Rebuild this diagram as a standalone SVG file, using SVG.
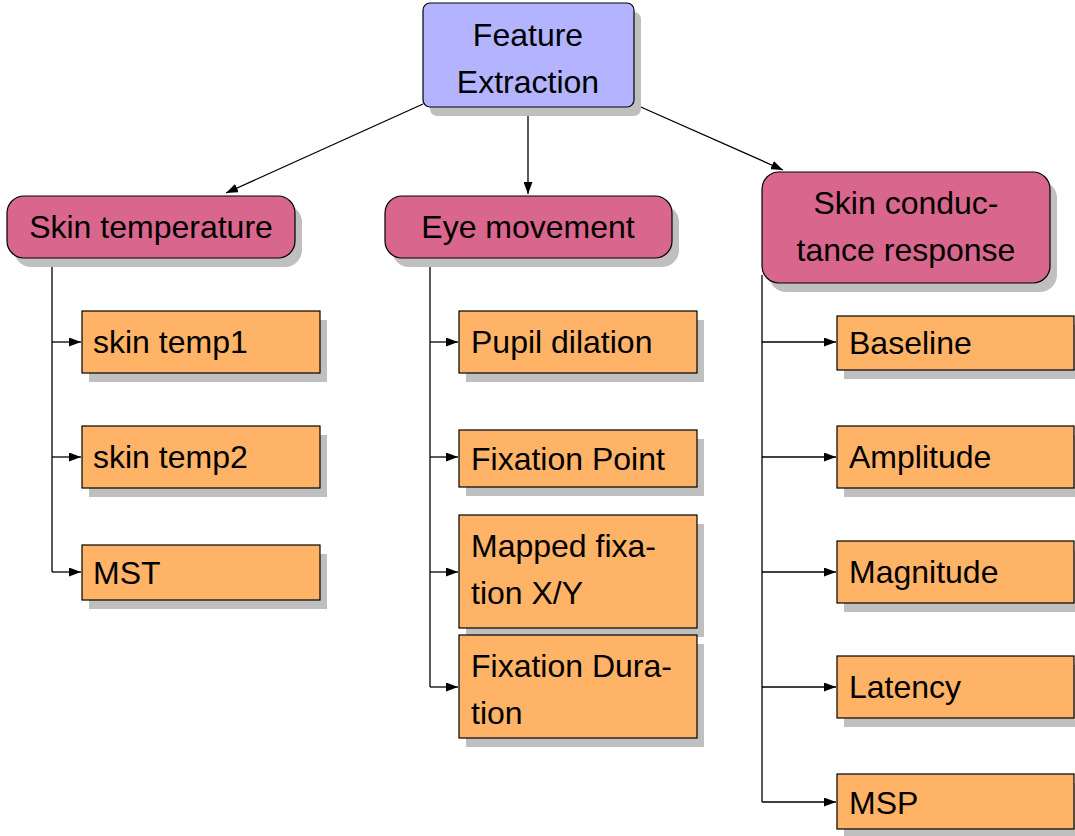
<svg xmlns="http://www.w3.org/2000/svg" width="1075" height="836" viewBox="0 0 1075 836">
<style>
text{font-family:"Liberation Sans",Arial,sans-serif;font-size:32px;fill:#000}
.c{text-anchor:middle}
.sh{fill:#bfbfbf}
.top{fill:#b3b3ff;stroke:#000;stroke-width:1.2}
.cat{fill:#d9668c;stroke:#000;stroke-width:1.2}
.leaf{fill:#ffb366;stroke:#000;stroke-width:1.2}
.ln{fill:none;stroke:#000;stroke-width:1.3}
</style>
<defs>
<marker id="ah" markerWidth="12" markerHeight="9" refX="12" refY="4.5" orient="auto" markerUnits="userSpaceOnUse">
<path d="M0,0 L12,4.5 L0,9 Z" fill="#000"/>
</marker>
</defs>
<g id="connectors" class="ln">
<line x1="423" y1="104" x2="226" y2="193" marker-end="url(#ah)"/>
<line x1="528" y1="107" x2="528" y2="194" marker-end="url(#ah)"/>
<line x1="634" y1="104" x2="783" y2="170" marker-end="url(#ah)"/>
<path d="M52,258 V572"/>
<line x1="52" y1="342" x2="81" y2="342" marker-end="url(#ah)"/>
<line x1="52" y1="457" x2="81" y2="457" marker-end="url(#ah)"/>
<line x1="52" y1="572" x2="81" y2="572" marker-end="url(#ah)"/>
<path d="M430,258 V687"/>
<line x1="430" y1="342" x2="458" y2="342" marker-end="url(#ah)"/>
<line x1="430" y1="457" x2="458" y2="457" marker-end="url(#ah)"/>
<line x1="430" y1="572" x2="458" y2="572" marker-end="url(#ah)"/>
<line x1="430" y1="687" x2="458" y2="687" marker-end="url(#ah)"/>
<path d="M762,275 V802"/>
<line x1="762" y1="342" x2="836" y2="342" marker-end="url(#ah)"/>
<line x1="762" y1="457" x2="836" y2="457" marker-end="url(#ah)"/>
<line x1="762" y1="572" x2="836" y2="572" marker-end="url(#ah)"/>
<line x1="762" y1="687" x2="836" y2="687" marker-end="url(#ah)"/>
<line x1="762" y1="802" x2="836" y2="802" marker-end="url(#ah)"/>
</g>
<g id="feature-extraction">
<rect class="sh" x="430" y="12" width="211" height="104" rx="7"/>
<rect class="top" x="423" y="3" width="211" height="104" rx="7"/>
<text class="c" x="528" y="46">Feature</text>
<text class="c" x="528" y="93">Extraction</text>
</g>
<g id="skin-temperature">
<rect class="sh" x="14" y="205" width="288" height="62" rx="17"/>
<rect class="cat" x="7" y="196" width="288" height="62" rx="17"/>
<text class="c" x="151" y="238">Skin temperature</text>
</g>
<g id="eye-movement">
<rect class="sh" x="392" y="205" width="287" height="62" rx="17"/>
<rect class="cat" x="385" y="196" width="287" height="62" rx="17"/>
<text class="c" x="528" y="238">Eye movement</text>
</g>
<g id="skin-conductance">
<rect class="sh" x="769" y="181" width="288" height="111" rx="17"/>
<rect class="cat" x="762" y="172" width="288" height="111" rx="17"/>
<text class="c" x="906" y="214">Skin conduc-</text>
<text class="c" x="906" y="261">tance response</text>
</g>
<g id="skin-temp1">
<rect class="sh" x="89" y="320" width="238" height="62"/>
<rect class="leaf" x="82" y="311" width="238" height="62"/>
<text x="93" y="353">skin temp1</text>
</g>
<g id="skin-temp2">
<rect class="sh" x="89" y="435" width="238" height="62"/>
<rect class="leaf" x="82" y="426" width="238" height="62"/>
<text x="93" y="468">skin temp2</text>
</g>
<g id="mst">
<rect class="sh" x="89" y="554" width="238" height="55"/>
<rect class="leaf" x="82" y="545" width="238" height="55"/>
<text x="93" y="584">MST</text>
</g>
<g id="pupil-dilation">
<rect class="sh" x="466" y="320" width="238" height="62"/>
<rect class="leaf" x="459" y="311" width="238" height="62"/>
<text x="471" y="353">Pupil dilation</text>
</g>
<g id="fixation-point">
<rect class="sh" x="466" y="439" width="238" height="57"/>
<rect class="leaf" x="459" y="430" width="238" height="57"/>
<text x="471" y="470">Fixation Point</text>
</g>
<g id="mapped-fixation">
<rect class="sh" x="466" y="524" width="238" height="113"/>
<rect class="leaf" x="459" y="515" width="238" height="113"/>
<text x="471" y="557">Mapped fixa-</text>
<text x="471" y="604">tion X/Y</text>
</g>
<g id="fixation-duration">
<rect class="sh" x="466" y="644" width="238" height="103"/>
<rect class="leaf" x="459" y="635" width="238" height="103"/>
<text x="471" y="677">Fixation Dura-</text>
<text x="471" y="724">tion</text>
</g>
<g id="baseline">
<rect class="sh" x="844" y="325" width="238" height="54"/>
<rect class="leaf" x="837" y="316" width="237" height="54"/>
<text x="849" y="354">Baseline</text>
</g>
<g id="amplitude">
<rect class="sh" x="844" y="435" width="238" height="62"/>
<rect class="leaf" x="837" y="426" width="237" height="62"/>
<text x="849" y="468">Amplitude</text>
</g>
<g id="magnitude">
<rect class="sh" x="844" y="550" width="238" height="62"/>
<rect class="leaf" x="837" y="541" width="237" height="62"/>
<text x="849" y="583">Magnitude</text>
</g>
<g id="latency">
<rect class="sh" x="844" y="665" width="238" height="62"/>
<rect class="leaf" x="837" y="656" width="237" height="62"/>
<text x="849" y="698">Latency</text>
</g>
<g id="msp">
<rect class="sh" x="844" y="783" width="238" height="55"/>
<rect class="leaf" x="837" y="774" width="237" height="55"/>
<text x="849" y="814">MSP</text>
</g>
</svg>
